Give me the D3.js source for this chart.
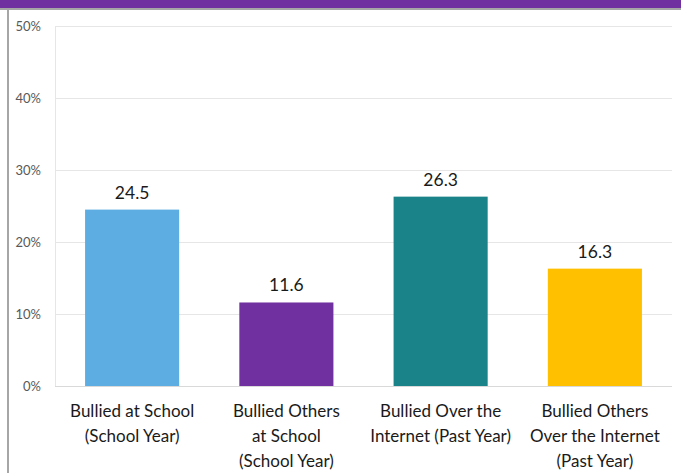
<!DOCTYPE html>
<html>
<head>
<meta charset="utf-8">
<script src="https://cdn.jsdelivr.net/npm/d3@7"></script>
<style>
  html, body { margin: 0; padding: 0; background: #fff; }
  svg { display: block; }
</style>
</head>
<body>
<svg id="chart" width="681" height="473"></svg>
<script>
// Bullying prevalence, percent of students
const categories = [
  ["Bullied at School", "(School Year)"],
  ["Bullied Others", "at School", "(School Year)"],
  ["Bullied Over the", "Internet (Past Year)"],
  ["Bullied Others", "Over the Internet", "(Past Year)"]
];
const values = [24.5, 11.6, 26.3, 16.3];
const barColors = ["#5DADE2", "#7030A0", "#1A8289", "#FFC000"];
const yTicks = [0, 10, 20, 30, 40, 50];

const svg = d3.select("#chart");
const W = 681, H = 473;
const margin = { left: 55, right: 9, top: 26, bottom: 87 };
const font = "Lato, 'Open Sans', sans-serif";

// frame: purple header band, grey rules
svg.append("rect").attr("x", 0).attr("y", 0).attr("width", W).attr("height", 8).attr("fill", "#7030A0");
svg.append("rect").attr("x", 0).attr("y", 8).attr("width", W).attr("height", 2).attr("fill", "#a6a6a6");
svg.append("rect").attr("x", 7).attr("y", 10).attr("width", 2).attr("height", H - 10).attr("fill", "#a6a6a6");

const x = d3.scaleBand()
  .domain(d3.range(categories.length))
  .range([margin.left, W - margin.right])
  .paddingInner(0.39)
  .paddingOuter(0.195);

const y = d3.scaleLinear()
  .domain([0, 50])
  .range([H - margin.bottom, margin.top]);

// horizontal gridlines
svg.append("g")
  .selectAll("line")
  .data(yTicks)
  .join("line")
  .attr("x1", margin.left).attr("x2", W - margin.right)
  .attr("y1", d => y(d) + 0.5).attr("y2", d => y(d) + 0.5)
  .attr("stroke", d => d === 0 ? "#d9d9d9" : "#e6e6e6")
  .attr("stroke-width", 1);

// left edge of plot area
svg.append("line")
  .attr("x1", margin.left + 0.5).attr("x2", margin.left + 0.5)
  .attr("y1", y(50)).attr("y2", y(0))
  .attr("stroke", "#e6e6e6");

// y axis labels
const yAxis = d3.axisLeft(y).tickValues(yTicks).tickFormat(d => d + "%").tickSize(0).tickPadding(14);
const gy = svg.append("g").attr("transform", `translate(${margin.left},0)`).call(yAxis);
gy.select(".domain").remove();
gy.selectAll("text")
  .attr("font-family", font)
  .attr("font-size", 13)
  .attr("fill", "#595959");

// bars
svg.append("g")
  .selectAll("rect")
  .data(values)
  .join("rect")
  .attr("x", (d, i) => x(i))
  .attr("width", x.bandwidth())
  .attr("y", d => y(d))
  .attr("height", d => y(0) - y(d))
  .attr("fill", (d, i) => barColors[i]);

// value labels
svg.append("g")
  .selectAll("text")
  .data(values)
  .join("text")
  .attr("x", (d, i) => x(i) + x.bandwidth() / 2)
  .attr("y", d => y(d) - 11)
  .attr("text-anchor", "middle")
  .attr("font-family", font)
  .attr("font-size", 17.5)
  .attr("fill", "#1a1a1a")
  .text(d => d.toFixed(1));

// category labels
const cat = svg.append("g")
  .selectAll("text")
  .data(categories)
  .join("text")
  .attr("text-anchor", "middle")
  .attr("font-family", font)
  .attr("font-size", 17)
  .attr("fill", "#1a1a1a");
cat.each(function(lines, i) {
  d3.select(this).selectAll("tspan")
    .data(lines)
    .join("tspan")
    .attr("x", x(i) + x.bandwidth() / 2)
    .attr("y", (d, j) => 417 + j * 25)
    .text(d => d);
});
</script>
</body>
</html>
